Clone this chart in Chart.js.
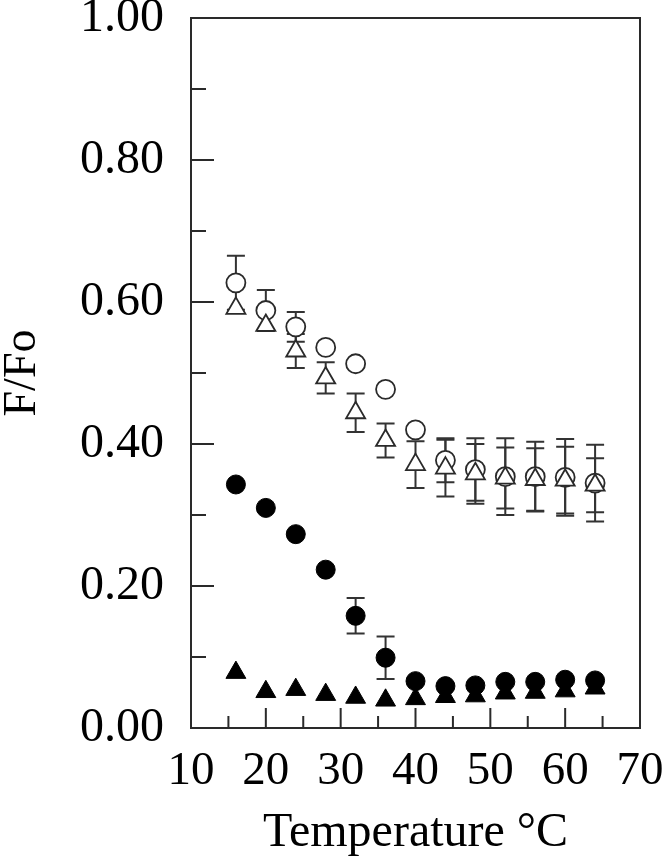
<!DOCTYPE html>
<html>
<head>
<meta charset="utf-8">
<style>
  html, body { margin: 0; padding: 0; background: #fff; }
  #wrap { width: 664px; height: 859px; }
</style>
</head>
<body>
<div id="wrap"><canvas id="myChart" width="664" height="859"></canvas></div>
<script src="https://cdn.jsdelivr.net/npm/chart.js"></script>
<script>
// temperature (oC)
var temps = [16, 20, 24, 28, 32, 36, 40, 44, 48, 52, 56, 60, 64];

// open circles
var openCircle    = [0.627, 0.588, 0.565, 0.536, 0.513, 0.477, 0.420, 0.377, 0.364, 0.354, 0.354, 0.353, 0.345];
var openCircleErr = [0.038, 0.029, 0.021, 0,     0,     0,     0,     0.031, 0.044, 0.054, 0.049, 0.054, 0.054];
// open triangles
var openTri       = [0.591, 0.567, 0.531, 0.493, 0.444, 0.405, 0.371, 0.366, 0.358, 0.352, 0.350, 0.349, 0.342];
var openTriErr    = [0,     0,     0.024, 0.022, 0.027, 0.024, 0.033, 0.040, 0.042, 0.043, 0.044, 0.047, 0.038];
// filled circles
var filledCircle    = [0.343, 0.310, 0.273, 0.223, 0.158, 0.099, 0.066, 0.059, 0.060, 0.065, 0.065, 0.068, 0.067];
var filledCircleErr = [0,     0,     0,     0,     0.025, 0.030, 0,     0,     0,     0,     0,     0,     0];
// filled triangles
var filledTri     = [0.078, 0.051, 0.054, 0.047, 0.043, 0.039, 0.041, 0.044, 0.045, 0.049, 0.050, 0.052, 0.056];

var yTicks = [0, 0.2, 0.4, 0.6, 0.8, 1.0];
var xTicks = [10, 20, 30, 40, 50, 60, 70];

function pts(ys, errs) {
    var out = [];
    for (var i = 0; i < temps.length; i++) {
        out.push({ x: temps[i], y: ys[i], err: errs ? errs[i] : 0 });
    }
    return out;
}

var serif = "'Liberation Serif', 'Times New Roman', serif";
var ink = '#2a2a2a';

// inward ticks, closed frame and error bars
var framePlugin = {
    id: 'frame',
    beforeDatasetsDraw: function (chart) {
        var ctx = chart.ctx, xs = chart.scales.x, ys = chart.scales.y;
        ctx.save();
        ctx.strokeStyle = '#333';
        ctx.lineWidth = 2;
        chart.data.datasets.forEach(function (ds) {
            ds.data.forEach(function (p) {
                if (!p.err) return;
                var px = xs.getPixelForValue(p.x);
                var top = ys.getPixelForValue(p.y + p.err);
                var bot = ys.getPixelForValue(p.y - p.err);
                ctx.beginPath();
                ctx.moveTo(px, top); ctx.lineTo(px, bot);
                ctx.moveTo(px - 9, top); ctx.lineTo(px + 9, top);
                ctx.moveTo(px - 9, bot); ctx.lineTo(px + 9, bot);
                ctx.stroke();
            });
        });
        ctx.restore();
    },
    afterDraw: function (chart) {
        var ctx = chart.ctx, a = chart.chartArea, xs = chart.scales.x, ys = chart.scales.y;
        ctx.save();
        ctx.strokeStyle = ink;
        ctx.lineWidth = 2;
        ctx.strokeRect(a.left, a.top, a.right - a.left, a.bottom - a.top);
        ctx.beginPath();
        for (var v = 15; v <= 65; v += 5) {
            var px = xs.getPixelForValue(v);
            var len = (v % 10 === 0) ? 20 : 12;
            ctx.moveTo(px, a.bottom); ctx.lineTo(px, a.bottom - len);
        }
        for (var k = 1; k <= 9; k++) {
            var py = ys.getPixelForValue(k / 10);
            var l2 = (k % 2 === 0) ? 23 : 15;
            ctx.moveTo(a.left, py); ctx.lineTo(a.left + l2, py);
        }
        ctx.stroke();
        ctx.restore();
    }
};

var ctx = document.getElementById('myChart').getContext('2d');
var myChart = new Chart(ctx, {
    type: 'scatter',
    data: {
        datasets: [
            {
                label: 'open triangles',
                data: pts(openTri, openTriErr),
                pointStyle: 'triangle',
                pointRadius: 11,
                backgroundColor: '#fff',
                borderColor: ink,
                borderWidth: 1.8
            },
            {
                label: 'open circles',
                data: pts(openCircle, openCircleErr),
                pointStyle: 'circle',
                pointRadius: 9.5,
                backgroundColor: '#fff',
                borderColor: ink,
                borderWidth: 1.8
            },
            {
                label: 'filled circles',
                data: pts(filledCircle, filledCircleErr),
                pointStyle: 'circle',
                pointRadius: 9.5,
                backgroundColor: '#000',
                borderColor: '#000',
                borderWidth: 1
            },
            {
                label: 'filled triangles',
                data: pts(filledTri, null),
                pointStyle: 'triangle',
                pointRadius: 11.5,
                backgroundColor: '#000',
                borderColor: '#000',
                borderWidth: 1
            }
        ]
    },
    options: {
        responsive: false,
        animation: false,
        layout: { padding: { top: 18, right: 24, left: 0, bottom: 0 } },
        plugins: { legend: { display: false }, tooltip: { enabled: false } },
        scales: {
            x: {
                type: 'linear',
                min: 10, max: 70,
                border: { display: false },
                grid: { display: true, drawOnChartArea: false, drawTicks: true, tickLength: 25, color: 'rgba(0,0,0,0)' },
                afterBuildTicks: function (s) { s.ticks = xTicks.map(function (v) { return { value: v }; }); },
                afterFit: function (s) { s.height = 131; },
                ticks: {
                    color: '#000',
                    padding: 0,
                    maxRotation: 0,
                    font: { family: serif, size: 47, lineHeight: 0.8 }
                },
                title: {
                    display: true,
                    text: 'Temperature °C',
                    color: '#000',
                    padding: { top: 4, bottom: 2 },
                    font: { family: serif, size: 48, lineHeight: 1.0 }
                }
            },
            y: {
                type: 'linear',
                min: 0, max: 1,
                border: { display: false },
                grid: { display: true, drawOnChartArea: false, drawTicks: true, tickLength: 27, color: 'rgba(0,0,0,0)' },
                afterBuildTicks: function (s) { s.ticks = yTicks.map(function (v) { return { value: v }; }); },
                afterFit: function (s) { s.width = 191; },
                ticks: {
                    color: '#000',
                    padding: 0,
                    font: { family: serif, size: 48, lineHeight: 0.74 },
                    callback: function (v) { return Number(v).toFixed(2); }
                },
                title: {
                    display: true,
                    text: 'F/Fo',
                    color: '#000',
                    padding: 0,
                    font: { family: serif, size: 46, lineHeight: 1.0 }
                }
            }
        }
    },
    plugins: [framePlugin]
});
</script>
</body>
</html>
